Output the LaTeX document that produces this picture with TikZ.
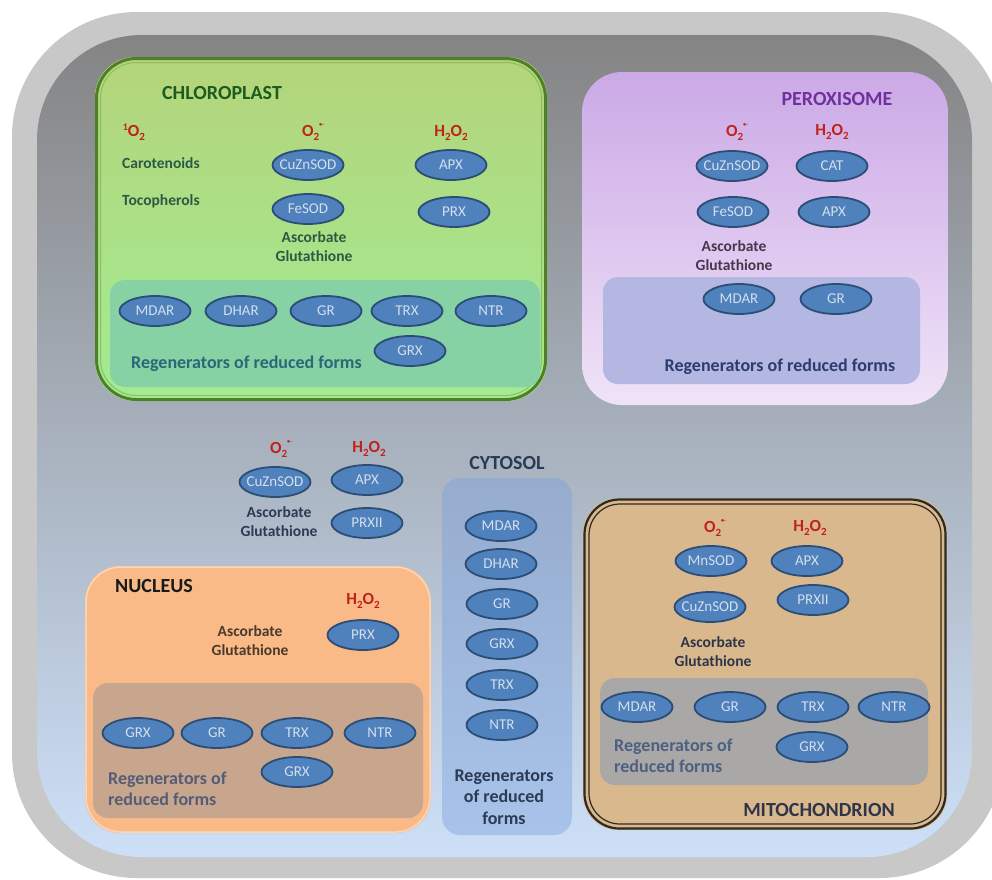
\documentclass[tikz,border=0pt]{standalone}
\usepackage{fontspec}
\setmainfont{Carlito}
\usetikzlibrary{shapes.geometric}
\definecolor{wallc}{HTML}{C8C8C8}
\definecolor{celltop}{HTML}{848484}
\definecolor{cellbot}{HTML}{CDE0F8}
\definecolor{chtop}{HTML}{B4D47A}
\definecolor{chbot}{HTML}{A2EC94}
\definecolor{chbord}{HTML}{4F7F28}
\definecolor{chbord2}{HTML}{8CBE5C}
\definecolor{chreg}{HTML}{86D2A4}
\definecolor{pxtop}{HTML}{CBA9E6}
\definecolor{pxbot}{HTML}{F0E3F8}
\definecolor{pxreg}{HTML}{B3B7E1}
\definecolor{nucf}{HTML}{F9BA88}
\definecolor{nucreg}{HTML}{C8A68E}
\definecolor{cytop}{HTML}{96ACCE}
\definecolor{cybot}{HTML}{A8C3EA}
\definecolor{mitf}{HTML}{D9B88E}
\definecolor{mitreg}{HTML}{A9A8A6}
\definecolor{mitbord}{HTML}{2E2A22}
\definecolor{enzf}{HTML}{4F81BD}
\definecolor{enzb}{HTML}{2C4D75}
\definecolor{enzt}{HTML}{D4DEEC}
\definecolor{rosc}{HTML}{C0221A}
\definecolor{chtitle}{HTML}{1E5B1E}
\definecolor{chlab}{HTML}{2B5A44}
\definecolor{chregt}{HTML}{2A6878}
\definecolor{pxtitle}{HTML}{7030A0}
\definecolor{pxlab}{HTML}{44384F}
\definecolor{pxregt}{HTML}{2E3B6E}
\definecolor{cylab}{HTML}{2B3A55}
\definecolor{nuclab}{HTML}{4A3A2A}
\definecolor{nucregt}{HTML}{555C78}
\definecolor{mitlab}{HTML}{2E3548}
\definecolor{mitregt}{HTML}{4D5F82}
\newcommand{\subtwo}{\raisebox{-0.45ex}{\fontsize{11}{11}\selectfont 2}}
\newcommand{\hho}{H\subtwo O\subtwo}
\newcommand{\supox}{O\subtwo\raisebox{1.2ex}{\fontsize{6}{6}\selectfont•-}}
\newcommand{\singox}{\raisebox{0.75ex}{\fontsize{10}{10}\selectfont 1}O\subtwo}
\tikzset{
  enz/.style={ellipse, draw=enzb, line width=1.8pt, fill=enzf, text=enzt,
    minimum width=71pt, minimum height=30pt, inner sep=0pt,
    font=\fontsize{15}{15}\selectfont},
  ros/.style={text=rosc, font=\bfseries\fontsize{17}{17}\selectfont, inner sep=0pt},
  lbl/.style={font=\bfseries\fontsize{15.5}{19}\selectfont, align=center, inner sep=0pt},
  regen/.style={font=\bfseries\fontsize{18}{21.5}\selectfont, inner sep=0pt},
  title/.style={font=\bfseries\fontsize{20}{20}\selectfont, inner sep=0pt},
}
\newcommand{\enz}[4]{\node[enz] (#1) at (#2,#3) {\makebox[0pt]{#4}};}
\begin{document}
\begin{tikzpicture}[x=1pt,y=-1pt]
\useasboundingbox (0,0) rectangle (992,879);
\fill[white] (0,0) rectangle (992,879);
% cell wall and cell
\fill[wallc, rounded corners=125pt] (12,12) rectangle (1004,878);
\shade[top color=celltop, bottom color=cellbot, rounded corners=105pt] (37,35) rectangle (972,857);

% ---------------- CHLOROPLAST ----------------
\shade[top color=chtop, bottom color=chbot, rounded corners=40pt] (95,57) rectangle (547,401);
\draw[chbord, line width=3pt, rounded corners=40pt] (96.5,58.5) rectangle (545.5,399.5);
\draw[chbord2, line width=1pt, rounded corners=36pt] (100.5,62.5) rectangle (541.5,395.5);
\fill[chreg, rounded corners=15pt] (110,280) rectangle (540,387);
\node[title, text=chtitle] (chT) at (222,93) {CHLOROPLAST};
\node[ros] (chS) at (134,132) {\singox};
\node[ros] (chO) at (313,132) {\supox};
\node[ros] (chH) at (451,133) {\hho};
\node[lbl, text=chlab, anchor=west] (chCar) at (122,163) {Carotenoids};
\node[lbl, text=chlab, anchor=west] (chToc) at (122,201) {Tocopherols};
\enz{chCu}{308}{165}{CuZnSOD}
\enz{chFe}{308}{209}{FeSOD}
\enz{chAPX}{451}{165}{APX}
\enz{chPRX}{454}{212}{PRX}
\node[lbl, text=chlab] (chAsc) at (314,247) {Ascorbate\\Glutathione};
\enz{chMDAR}{155}{311}{MDAR}
\enz{chDHAR}{241}{311}{DHAR}
\enz{chGR}{326}{311}{GR}
\enz{chTRX}{407}{311}{TRX}
\enz{chNTR}{491}{311}{NTR}
\enz{chGRX}{410}{351}{GRX}
\node[regen, text=chregt, anchor=west] (chReg) at (131,364) {Regenerators of reduced forms};

% ---------------- PEROXISOME ----------------
\shade[top color=pxtop, bottom color=pxbot, rounded corners=40pt] (582,72) rectangle (948,405);
\fill[pxreg, rounded corners=15pt] (603,277) rectangle (920,384);
\node[title, text=pxtitle] (pxT) at (837,99) {PEROXISOME};
\node[ros] (pxO) at (737,132) {\supox};
\node[ros] (pxH) at (832,132) {\hho};
\enz{pxCu}{732}{166}{CuZnSOD}
\enz{pxCAT}{832}{166}{CAT}
\enz{pxFe}{733}{212}{FeSOD}
\enz{pxAPX}{834}{212}{APX}
\node[lbl, text=pxlab] (pxAsc) at (734,256) {Ascorbate\\Glutathione};
\enz{pxMDAR}{739}{299}{MDAR}
\enz{pxGR}{836}{299}{GR}
\node[regen, text=pxregt] (pxReg) at (780,367) {Regenerators of reduced forms};

% ---------------- CYTOSOL (free) ----------------
\node[ros] (cyO) at (281,449) {\supox};
\node[ros] (cyH) at (369,449) {\hho};
\enz{cyCu}{275}{482}{CuZnSOD}
\enz{cyAPX}{367}{480}{APX}
\node[lbl, text=cylab] (cyAsc) at (279,522) {Ascorbate\\Glutathione};
\enz{cyPRX}{367}{523}{PRXII}

% ---------------- NUCLEUS ----------------
\fill[nucf, rounded corners=35pt] (85,566) rectangle (431,833);
\draw[nucf!60!white, line width=1.5pt, rounded corners=35pt] (86,567) rectangle (430,832);
\fill[nucreg, rounded corners=15pt] (93,683) rectangle (423,818);
\node[title, text=black!90] (nuT) at (154,586) {NUCLEUS};
\node[ros] (nuH) at (363,601) {\hho};
\node[lbl, text=nuclab] (nuAsc) at (250,641) {Ascorbate\\Glutathione};
\enz{nuPRX}{363}{635}{PRX}
\enz{nuGRX}{138}{733}{GRX}
\enz{nuGR}{217}{733}{GR}
\enz{nuTRX}{297}{733}{TRX}
\enz{nuNTR}{380}{733}{NTR}
\enz{nuGRXb}{297}{772}{GRX}
\node[regen, text=nucregt, anchor=west, align=left] (nuReg) at (108,789) {Regenerators of\\reduced forms};

% ---------------- CYTOSOL column ----------------
\shade[top color=cytop, bottom color=cybot, rounded corners=18pt] (442,478) rectangle (572,835);
\node[title, text=cylab] (cyT) at (507,463) {CYTOSOL};
\enz{cyMDAR}{501}{526}{MDAR}
\enz{cyDHAR}{501}{564}{DHAR}
\enz{cyGR}{502}{604}{GR}
\enz{cyGRX}{502}{644}{GRX}
\enz{cyTRX}{502}{685}{TRX}
\enz{cyNTR}{502}{725}{NTR}
\node[regen, text=cylab, align=center] (cyReg) at (504,797) {Regenerators\\of reduced\\forms};

% ---------------- MITOCHONDRION ----------------
\fill[mitf, rounded corners=35pt] (583,498) rectangle (947,830);
\draw[mitbord, line width=2.2pt, rounded corners=35pt] (584.5,499.5) rectangle (945.5,828.5);
\draw[mitbord, line width=1.2pt, rounded corners=31pt] (589,504) rectangle (941,824);
\fill[mitreg, rounded corners=15pt] (600,678) rectangle (928,785);
\node[ros] (miO) at (715,528) {\supox};
\node[ros] (miH) at (810,528) {\hho};
\enz{miMn}{711}{561}{MnSOD}
\enz{miAPX}{807}{561}{APX}
\enz{miCu}{710}{607}{CuZnSOD}
\enz{miPRX}{813}{600}{PRXII}
\node[lbl, text=mitlab] (miAsc) at (713,652) {Ascorbate\\Glutathione};
\enz{miMDAR}{637}{707}{MDAR}
\enz{miGR}{730}{707}{GR}
\enz{miTRX}{813}{707}{TRX}
\enz{miNTR}{894}{707}{NTR}
\enz{miGRX}{812}{747}{GRX}
\node[regen, text=mitregt, anchor=west, align=left] (miReg) at (614,756) {Regenerators of\\reduced forms};
\node[title, text=mitlab] (miT) at (819,810) {MITOCHONDRION};
\end{tikzpicture}
\end{document}
